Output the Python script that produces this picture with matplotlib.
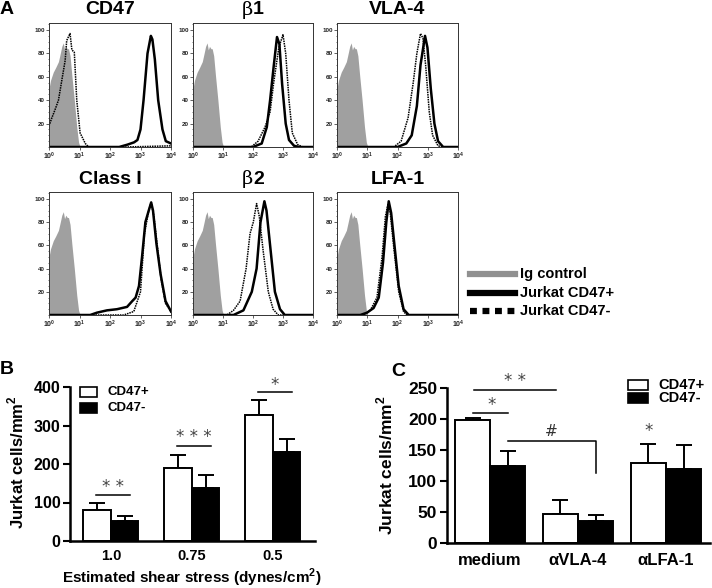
import numpy as np
import matplotlib
matplotlib.use('Agg')
import matplotlib.pyplot as plt
from matplotlib.lines import Line2D
from matplotlib.patches import Rectangle
from matplotlib.ticker import LogLocator, MultipleLocator, NullFormatter

plt.rcParams['font.family'] = ['Liberation Sans', 'DejaVu Sans']
plt.rcParams['mathtext.fontset'] = 'custom'
plt.rcParams['mathtext.rm'] = 'Liberation Sans'
plt.rcParams['mathtext.bf'] = 'Liberation Sans:bold'

# ---------------- data ----------------
hist_titles = ['CD47', 'β1', 'VLA-4', 'Class I', 'β2', 'LFA-1']

# Ig control (grey filled), log10 of fluorescence vs % of max
ig_logx = [0.0, 0.05, 0.14, 0.22, 0.31, 0.37, 0.42, 0.47, 0.51, 0.55, 0.6, 0.64, 0.69, 0.75, 0.83, 0.91, 0.97, 1.02]
ig_y = [50, 57, 64, 68, 73, 80, 86, 89, 83, 86, 84, 84, 78, 61, 40, 17, 4, 0]

# Jurkat CD47+ (solid) and CD47- (dotted) per panel
cd47_pos_logx = [0, 2.3, 2.57, 2.79, 2.9, 3.0, 3.1, 3.23, 3.34, 3.39, 3.47, 3.58, 3.72, 3.83, 4.0]
cd47_pos_y = [0, 0, 2, 4, 6, 15, 40, 80, 95, 92, 75, 40, 15, 5, 3]
cd47_neg_logx = [0, 0.08, 0.2, 0.31, 0.42, 0.53, 0.58, 0.69, 0.75, 0.83, 0.91, 1.02, 1.19, 1.3, 2.5, 4.0]
cd47_neg_y = [18, 24, 32, 40, 57, 74, 91, 97, 83, 81, 40, 12, 3, 0, 0, 1]

b1_pos_logx = [0, 2.0, 2.29, 2.46, 2.57, 2.69, 2.8, 2.88, 2.97, 3.09, 3.2, 3.37, 3.54, 4.0]
b1_pos_y = [0, 0, 3, 17, 40, 69, 94, 88, 54, 20, 6, 1, 0, 0]
b1_neg_logx = [0, 1.94, 2.17, 2.4, 2.57, 2.69, 2.86, 3.0, 3.09, 3.2, 3.31, 3.49, 3.66, 4.0]
b1_neg_y = [0, 0, 5, 17, 30, 55, 85, 96, 80, 40, 12, 2, 0, 0]

vla4_pos_logx = [0, 2.0, 2.29, 2.47, 2.64, 2.76, 2.91, 2.99, 3.1, 3.22, 3.34, 3.51, 4.0]
vla4_pos_y = [0, 0, 3, 10, 35, 70, 95, 85, 50, 20, 5, 0, 0]
vla4_neg_logx = [0, 1.88, 2.12, 2.35, 2.52, 2.64, 2.76, 2.84, 2.93, 3.05, 3.16, 3.34, 3.51, 4.0]
vla4_neg_y = [0, 0, 5, 25, 55, 80, 97, 93, 70, 30, 10, 1, 0, 0]

class1_pos_logx = [0, 1.35, 1.57, 1.9, 2.23, 2.56, 2.73, 2.84, 2.95, 3.05, 3.16, 3.27, 3.35, 3.41, 3.52, 3.66, 3.82, 4.0]
class1_pos_y = [0, 0, 2, 4, 5, 7, 12, 15, 25, 50, 80, 90, 97, 90, 62, 35, 12, 3]
class1_neg_logx = [0, 2.45, 2.78, 3.0, 3.13, 3.27, 3.35, 3.44, 3.55, 3.68, 3.82, 4.0]
class1_neg_y = [0, 0, 3, 20, 70, 90, 97, 85, 60, 30, 10, 3]

b2_pos_logx = [0, 1.35, 1.68, 1.96, 2.12, 2.25, 2.38, 2.45, 2.59, 2.73, 2.9, 3.06, 4.0]
b2_pos_y = [0, 0, 4, 20, 40, 80, 98, 90, 55, 20, 5, 0, 0]
b2_neg_logx = [0, 1.13, 1.35, 1.57, 1.77, 1.9, 2.01, 2.12, 2.21, 2.34, 2.51, 2.67, 2.84, 4.0]
b2_neg_y = [0, 0, 4, 12, 40, 70, 80, 96, 85, 55, 20, 5, 0, 0]

lfa1_pos_logx = [0, 0.77, 0.99, 1.21, 1.38, 1.52, 1.63, 1.71, 1.79, 1.9, 2.04, 2.2, 2.37, 4.0]
lfa1_pos_y = [0, 0, 2, 6, 15, 45, 80, 98, 88, 60, 25, 5, 0, 0]
lfa1_neg_logx = [0, 0.88, 1.1, 1.32, 1.49, 1.6, 1.69, 1.76, 1.87, 2.04, 2.2, 2.31, 4.0]
lfa1_neg_y = [0, 0, 4, 15, 50, 85, 96, 88, 60, 20, 3, 0, 0]

hist_ticks = [20, 40, 60, 80, 100]
decades = [0, 1, 2, 3, 4]

# Panel B
shear_labels = ['1.0', '0.75', '0.5']
b_pos_mean = [80, 190, 328]
b_pos_err = [18, 33, 39]
b_neg_mean = [52, 138, 230]
b_neg_err = [14, 33, 35]
b_sig = ['* *', '* * *', '*']

# Panel C
treat_labels = ['medium', 'αVLA-4', 'αLFA-1']
c_pos_mean = [198, 47, 129]
c_pos_err = [3, 23, 31]
c_neg_mean = [125, 36, 119]
c_neg_err = [24, 9, 39]

# ---------------- figure ----------------
W, H = 712, 588
fig = plt.figure(figsize=(W / 100, H / 100), dpi=100)


def px_axes(l, t, r, b):
    return fig.add_axes([l / W, 1 - b / H, (r - l) / W, (b - t) / H])


def fx(x):
    return x / W


def fy(y):
    return 1 - y / H


# ---- panel A: flow histograms ----
pos_curves = [(cd47_pos_logx, cd47_pos_y), (b1_pos_logx, b1_pos_y), (vla4_pos_logx, vla4_pos_y),
              (class1_pos_logx, class1_pos_y), (b2_pos_logx, b2_pos_y), (lfa1_pos_logx, lfa1_pos_y)]
neg_curves = [(cd47_neg_logx, cd47_neg_y), (b1_neg_logx, b1_neg_y), (vla4_neg_logx, vla4_neg_y),
              (class1_neg_logx, class1_neg_y), (b2_neg_logx, b2_neg_y), (lfa1_neg_logx, lfa1_neg_y)]
cols = [(49, 171), (193, 313), (337, 458)]
rows = [(23, 147), (192, 315)]

for i, title in enumerate(hist_titles):
    l, r = cols[i % 3]
    t, b = rows[i // 3]
    ax = px_axes(l, t, r, b)
    ax.set_xscale('log')
    ax.fill_between(10 ** np.array(ig_logx), ig_y, color='#a0a0a0', lw=0)
    nx, ny = neg_curves[i]
    px, py = pos_curves[i]
    ax.plot(10 ** np.array(nx), ny, color='black', lw=1.1, ls=(0, (1, 0.6)))
    ax.plot(10 ** np.array(px), py, color='black', lw=1.8)
    ax.set_xlim(1, 1e4)
    ax.set_ylim(0, 106)
    ax.set_yticks(hist_ticks)
    ax.set_yticklabels([str(v) for v in hist_ticks], fontsize=4.5, fontweight='bold')
    ax.yaxis.set_minor_locator(MultipleLocator(5))
    ax.set_xticks([10.0 ** d for d in decades])
    ax.set_xticklabels([r'$\mathbf{10^{%d}}$' % d for d in decades], fontsize=5)
    ax.xaxis.set_minor_locator(LogLocator(base=10, subs=np.arange(2, 10)))
    ax.xaxis.set_minor_formatter(NullFormatter())
    ax.tick_params(which='major', length=2, width=0.5, pad=1, colors='#222')
    ax.tick_params(which='minor', length=1, width=0.4)
    for s in ax.spines.values():
        s.set_linewidth(0.7)
        s.set_color('#333')
    if title.startswith('β'):
        ax.text(0.5, 1.105, 'β', transform=ax.transAxes, ha='right', va='center',
                fontsize=14, family='DejaVu Serif')
        ax.text(0.5, 1.105, title[1:], transform=ax.transAxes, ha='left', va='center',
                fontsize=14, fontweight='bold')
    else:
        ax.text(0.5, 1.105, title, transform=ax.transAxes, ha='center', va='center',
                fontsize=14, fontweight='bold')

fig.text(fx(7), fy(10), 'A', fontsize=14, fontweight='bold', ha='center', va='center')

# legend for A
leg_items = [('Ig control', '#909090', '-'), ('Jurkat CD47+', 'black', '-'),
             ('Jurkat CD47-', 'black', (0, (1.1, 0.9)))]
for k, (lab, col, ls) in enumerate(leg_items):
    yy = [274, 293, 311][k]
    fig.add_artist(Line2D([fx(470), fx(515)], [fy(yy), fy(yy)], color=col, lw=4.5, ls=ls,
                          transform=fig.transFigure))
    fig.text(fx(520), fy(yy), lab, fontsize=10.5, fontweight='bold', ha='left', va='center')


def legend_box(x, y, w, h, face, label, fs):
    fig.add_artist(Rectangle((fx(x), fy(y + h / 2)), w / W, h / H, facecolor=face,
                             edgecolor='black', lw=1.2, transform=fig.transFigure))
    return fig.text(fx(x + w + 10), fy(y), label, fontsize=fs, fontweight='bold',
                    ha='left', va='center')


# ---- panel B ----
axb = px_axes(70, 387, 315, 541)
xb = np.arange(len(shear_labels))
wb = 0.34
axb.bar(xb - wb / 2, b_pos_mean, wb, color='white', edgecolor='black', lw=1.4, zorder=2)
axb.bar(xb + wb / 2, b_neg_mean, wb, color='black', edgecolor='black', lw=1.4, zorder=2)
axb.errorbar(xb - wb / 2, b_pos_mean, yerr=[np.zeros(3), b_pos_err], fmt='none', ecolor='black',
             elinewidth=1.4, capsize=6, capthick=1.4, zorder=1)
axb.errorbar(xb + wb / 2, b_neg_mean, yerr=[np.zeros(3), b_neg_err], fmt='none', ecolor='black',
             elinewidth=1.4, capsize=6, capthick=1.4, zorder=1)
b_line_y = [119, 247, 386]
b_star_y = [140, 270, 406]
for i, s in enumerate(b_sig):
    axb.plot([xb[i] - 0.19, xb[i] + 0.23], [b_line_y[i]] * 2, color='black', lw=1.1, clip_on=False)
    axb.text(xb[i] + 0.02, b_star_y[i], s, ha='center', va='center', fontsize=12,
             color='#444', family='DejaVu Sans', clip_on=False)
axb.set_xlim(-0.506, 2.52)
axb.set_ylim(0, 400)
axb.set_yticks([0, 100, 200, 300, 400])
axb.set_xticks(xb)
axb.set_xticklabels(shear_labels)
for lab in axb.get_yticklabels():
    lab.set_fontweight('bold')
    lab.set_fontsize(11.5)
for lab in axb.get_xticklabels():
    lab.set_fontweight('bold')
    lab.set_fontsize(10.5)
axb.tick_params(axis='y', length=5, width=1.5, pad=2)
axb.tick_params(axis='x', length=0, pad=6)
axb.spines[['top', 'right']].set_visible(False)
axb.spines[['left', 'bottom']].set_linewidth(1.8)
fig.text(fx(16), fy(462), r'Jurkat cells/mm$^\mathbf{2}$', rotation=90, fontsize=12,
         fontweight='bold', ha='center', va='center')
fig.text(fx(192), fy(578), r'Estimated shear stress (dynes/cm$^\mathbf{2}$)', fontsize=11,
         fontweight='bold', ha='center', va='center')
fig.text(fx(7), fy(370), 'B', fontsize=14, fontweight='bold', ha='center', va='center')
legend_box(80, 392, 17, 10, 'white', 'CD47+', 9.5)
legend_box(80, 408, 17, 10, 'black', 'CD47-', 9.5)

# ---- panel C ----
axc = px_axes(447, 388, 710, 543)
xc = np.arange(len(treat_labels))
wc = 0.40
axc.bar(xc - wc / 2, c_pos_mean, wc, color='white', edgecolor='black', lw=1.4, zorder=2)
axc.bar(xc + wc / 2, c_neg_mean, wc, color='black', edgecolor='black', lw=1.4, zorder=2)
axc.errorbar(xc - wc / 2, c_pos_mean, yerr=[np.zeros(3), c_pos_err], fmt='none', ecolor='black',
             elinewidth=1.4, capsize=6, capthick=1.4, zorder=1)
axc.errorbar(xc + wc / 2, c_neg_mean, yerr=[np.zeros(3), c_neg_err], fmt='none', ecolor='black',
             elinewidth=1.4, capsize=6, capthick=1.4, zorder=1)
axc.plot([-0.18, 0.75], [246, 246], color='black', lw=1.1, clip_on=False)
axc.text(0.28, 261, '* *', ha='center', va='center', fontsize=12, color='#444',
         family='DejaVu Sans', clip_on=False)
axc.plot([-0.19, 0.2], [209, 209], color='black', lw=1.1)
axc.text(0.02, 223, '*', ha='center', va='center', fontsize=12, color='#444', family='DejaVu Sans')
axc.plot([0.2, 1.2, 1.2], [164, 164, 113], color='black', lw=1.1)
axc.text(0.7, 180, '#', ha='center', va='center', fontsize=11, color='#333', family='DejaVu Sans')
axc.text(1.8, 180, '*', ha='center', va='center', fontsize=12, color='#444', family='DejaVu Sans')
axc.set_xlim(-0.49, 2.5)
axc.set_ylim(0, 250)
axc.set_yticks([0, 50, 100, 150, 200, 250])
axc.set_xticks(xc)
axc.set_xticklabels(treat_labels)
for lab in axc.get_yticklabels():
    lab.set_fontweight('bold')
    lab.set_fontsize(12.5)
for lab in axc.get_xticklabels():
    lab.set_fontweight('bold')
    lab.set_fontsize(12)
axc.tick_params(axis='y', length=5, width=1.5, pad=2)
axc.tick_params(axis='x', length=0, pad=7)
axc.spines[['top', 'right']].set_visible(False)
axc.spines[['left', 'bottom']].set_linewidth(1.8)
fig.text(fx(385), fy(465), r'Jurkat cells/mm$^\mathbf{2}$', rotation=90, fontsize=12.5,
         fontweight='bold', ha='center', va='center')
fig.text(fx(398), fy(371), 'C', fontsize=14, fontweight='bold', ha='center', va='center')
legend_box(628, 385, 20, 10, 'white', 'CD47+', 10.5)
legend_box(628, 398, 20, 10, 'black', 'CD47-', 10.5)

fig.savefig('out.png', dpi=100)
